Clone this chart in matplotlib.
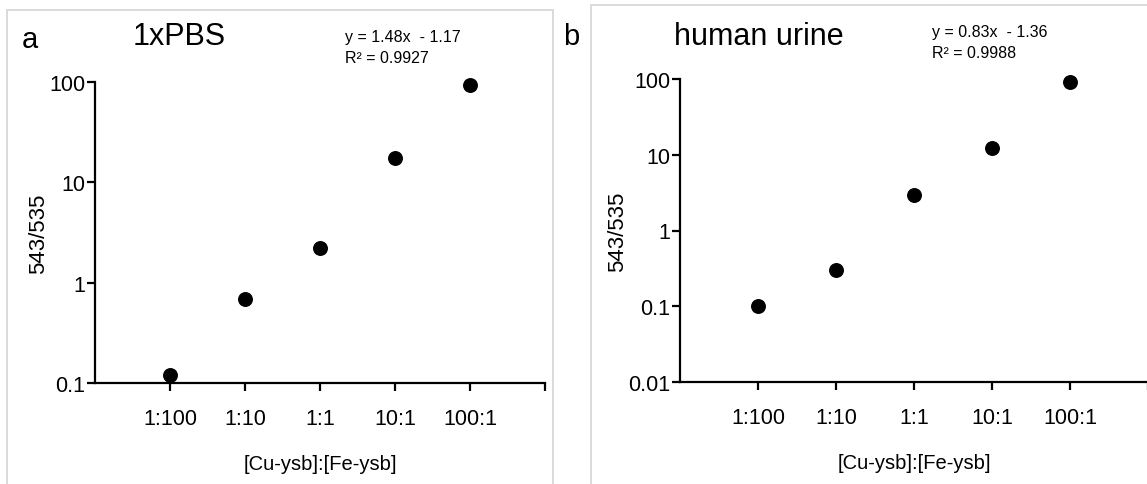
import matplotlib
matplotlib.use("Agg")
import matplotlib.pyplot as plt
from matplotlib.patches import Rectangle

plt.rcParams['font.family'] = ['Liberation Sans', 'DejaVu Sans']

ratios = ['1:100', '1:10', '1:1', '10:1', '100:1']
pbs_vals = [0.12, 0.68, 2.2, 17.4, 93]
urine_vals = [0.10, 0.30, 2.95, 12.3, 91]

pbs_ticks = [0.1, 1, 10, 100]
pbs_ticklabels = ['0.1', '1', '10', '100']
urine_ticks = [0.01, 0.1, 1, 10, 100]
urine_ticklabels = ['0.01', '0.1', '1', '10', '100']

fig = plt.figure(figsize=(11.47, 4.85), dpi=100)

# light grey panel frames
fig.patches.append(Rectangle((7 / 1147, -0.05), 546 / 1147, 1 - 11 / 485 + 0.05,
                             transform=fig.transFigure, fill=False,
                             edgecolor='#d4d4d4', linewidth=1.2))
fig.patches.append(Rectangle((591 / 1147, -0.05), 0.5, 1 - 6 / 485 + 0.05,
                             transform=fig.transFigure, fill=False,
                             edgecolor='#d4d4d4', linewidth=1.2))


def draw_panel(ax, vals, yticks, yticklabels, ymin):
    x = list(range(1, len(vals) + 1))
    ax.scatter(x, vals, s=95, color='black', zorder=3, clip_on=False)
    ax.set_yscale('log')
    ax.set_ylim(ymin, 100)
    ax.set_xlim(0, 6)
    ax.set_yticks(yticks)
    ax.set_yticklabels(yticklabels)
    ax.minorticks_off()
    ax.set_xticks([1, 2, 3, 4, 5, 6])
    ax.set_xticklabels(ratios + [''])
    for s in ['top', 'right']:
        ax.spines[s].set_visible(False)
    for s in ['left', 'bottom']:
        ax.spines[s].set_linewidth(1.6)
    ax.tick_params(axis='x', length=6, width=1.6, pad=12, labelsize=15.5)
    ax.tick_params(axis='y', length=6, width=1.6, pad=1, labelsize=15.5)
    ax.set_xlabel('[Cu-ysb]:[Fe-ysb]', fontsize=14.5, labelpad=18)
    ax.set_ylabel('543/535', fontsize=16, labelpad=0)


ax1 = fig.add_axes([95 / 1147, 1 - 384 / 485, 450 / 1147, 301 / 485])
draw_panel(ax1, pbs_vals, pbs_ticks, pbs_ticklabels, 0.1)

ax2 = fig.add_axes([680 / 1147, 1 - 383 / 485, 468 / 1147, 303 / 485])
draw_panel(ax2, urine_vals, urine_ticks, urine_ticklabels, 0.01)

# panel letters, titles and fit equations
fig.text(22 / 1147, 1 - 48 / 485, 'a', fontsize=21)
fig.text(563 / 1147, 1 - 45 / 485, 'b', fontsize=21)
fig.text(133 / 1147, 1 - 45 / 485, '1xPBS', fontsize=22)
fig.text(674 / 1147, 1 - 45 / 485, 'human urine', fontsize=22)

fig.text(345 / 1147, 1 - 42 / 485, 'y = 1.48x  - 1.17', fontsize=11.5)
fig.text(345 / 1147, 1 - 63 / 485, 'R² = 0.9927', fontsize=11.5)
fig.text(932 / 1147, 1 - 37 / 485, 'y = 0.83x  - 1.36', fontsize=11.5)
fig.text(932 / 1147, 1 - 58 / 485, 'R² = 0.9988', fontsize=11.5)

fig.savefig('out.png', dpi=100)
